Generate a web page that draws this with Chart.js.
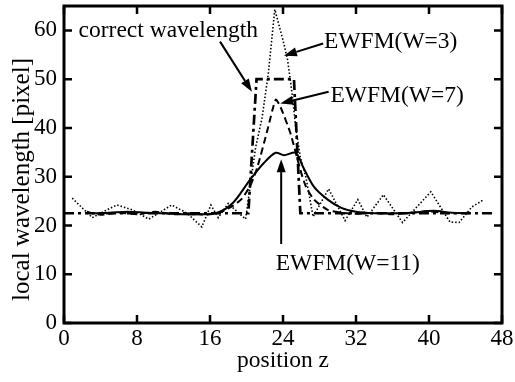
<!DOCTYPE html>
<html>
<head>
<meta charset="utf-8">
<script src="https://cdn.jsdelivr.net/npm/chart.js@4"></script>
<style>
  html, body { margin: 0; padding: 0; background: #fff; }
  #wrap { width: 515px; height: 382px; }
</style>
</head>
<body>
<div id="wrap"><canvas id="canvas" width="515" height="382"></canvas></div>
<script>
const xTicks = [0, 8, 16, 24, 32, 40, 48];
const yTicks = [0, 10, 20, 30, 40, 50, 60];
const yTitle = "local wavelength [pixel]";
const xTitle = "position z";

// correct wavelength (dash-dot)
const correctZ = [0, 20.2, 21.1, 25.2, 25.9, 47.0];
const correctL = [22.5, 22.5, 50, 50, 22.5, 22.5];

// EWFM(W=3) (dotted)
const w3Z = [0.9, 3.1, 4.5, 5.8, 7.5, 9.3, 11.8, 13.5, 15.1, 16.1, 16.9, 18.0, 19.9, 20.4, 21.0, 21.7, 22.4, 23.1, 24.0, 24.5, 25.0, 25.4, 25.9, 26.5, 27.3, 29.0, 30.8, 32.2, 33.2, 35.0, 37.1, 40.2, 42.3, 43.3, 44.7, 46.0];
const w3L = [25.6, 21.6, 23.0, 24.2, 23.2, 21.3, 24.2, 22.5, 19.7, 24.2, 21.6, 24.5, 21.3, 28.0, 36.0, 42.0, 51.3, 64.3, 58.0, 54.0, 47.0, 40.0, 34.0, 30.0, 21.8, 27.5, 21.0, 25.3, 21.7, 26.3, 20.6, 26.9, 20.7, 20.6, 23.8, 25.3];

// EWFM(W=7) (dashed)
const w7Z = [2.5, 4, 6, 8, 10, 12, 14, 15.5, 17, 18.5, 19.5, 20.5, 21.2, 22.3, 23.2, 23.7, 24.8, 25.9, 26.5, 27.4, 28.9, 30.5, 32, 34, 36, 38, 40, 42, 44.5];
const w7L = [22.8, 22.2, 22.6, 22.3, 22.8, 22.3, 22.5, 22.2, 22.6, 24.0, 25.5, 28.5, 32.0, 39.6, 45.8, 44.4, 39.0, 31.4, 28.0, 25.3, 23.2, 22.6, 22.4, 22.6, 22.3, 22.6, 22.9, 22.5, 22.6];

// EWFM(W=11) (solid)
const w11Z = [3, 5, 7, 9, 11, 13, 15, 16.8, 18.5, 20.4, 21.9, 23.2, 24.1, 25.4, 26.2, 27.4, 28.9, 30.4, 32, 34, 36, 38, 40.5, 42.5, 44.5];
const w11L = [22.5, 22.6, 22.8, 22.6, 22.5, 22.3, 22.3, 22.6, 24.6, 29.4, 32.8, 34.9, 34.4, 34.9, 32.0, 27.9, 25.3, 23.6, 22.8, 22.5, 22.5, 22.6, 23.0, 22.6, 22.5];

// labels and arrows, in data units
const labels = [
  { text: "correct wavelength", z: 1.6, l: 60.0 },
  { text: "EWFM(W=3)", z: 28.5, l: 57.6 },
  { text: "EWFM(W=7)", z: 29.2, l: 46.6 },
  { text: "EWFM(W=11)", z: 23.2, l: 12.2 },
];
const arrows = [
  { from: [17.1, 57.7], to: [20.6, 47.4] },
  { from: [28.4, 57.3], to: [24.1, 54.8] },
  { from: [29.0, 47.4], to: [23.7, 45.0] },
  { from: [23.8, 16.2], to: [23.8, 33.6] },
];

const FONT = "'Liberation Serif', 'DejaVu Serif', serif";

const pts = (zs, ls) => zs.map((z, i) => ({ x: z, y: ls[i] }));

const framePlugin = {
  id: "frame",
  afterDraw: (chart) => {
    const ctx = chart.ctx;
    const a = chart.chartArea;
    const sx = chart.scales.x;
    const sy = chart.scales.y;
    ctx.save();
    ctx.strokeStyle = "#000";
    ctx.lineWidth = 3;
    ctx.setLineDash([]);
    ctx.strokeRect(a.left, a.top, a.right - a.left, a.bottom - a.top);
    ctx.lineWidth = 2.5;
    ctx.beginPath();
    xTicks.forEach((v) => {
      const px = sx.getPixelForValue(v);
      ctx.moveTo(px, a.bottom); ctx.lineTo(px, a.bottom - 8);
      ctx.moveTo(px, a.top); ctx.lineTo(px, a.top + 8);
    });
    yTicks.forEach((v) => {
      const py = sy.getPixelForValue(v);
      ctx.moveTo(a.left, py); ctx.lineTo(a.left + 8, py);
      ctx.moveTo(a.right, py); ctx.lineTo(a.right - 8, py);
    });
    ctx.stroke();

    // y axis title, sits a bit below the middle in the original
    ctx.fillStyle = "#000";
    ctx.save();
    ctx.font = "25px " + FONT;
    ctx.translate(22, (a.top + a.bottom) / 2 + 15);
    ctx.rotate(-Math.PI / 2);
    ctx.textAlign = "center";
    ctx.textBaseline = "middle";
    ctx.fillText(yTitle, 0, 0);
    ctx.restore();

    // annotations
    ctx.font = "23.5px " + FONT;
    ctx.textBaseline = "middle";
    ctx.textAlign = "left";
    labels.forEach((t) => {
      ctx.fillText(t.text, sx.getPixelForValue(t.z), sy.getPixelForValue(t.l));
    });
    ctx.lineWidth = 2;
    arrows.forEach((ar) => {
      const x1 = sx.getPixelForValue(ar.from[0]);
      const y1 = sy.getPixelForValue(ar.from[1]);
      const x2 = sx.getPixelForValue(ar.to[0]);
      const y2 = sy.getPixelForValue(ar.to[1]);
      const ang = Math.atan2(y2 - y1, x2 - x1);
      const hl = 13, hw = 4.5;
      const bx = x2 - hl * Math.cos(ang);
      const by = y2 - hl * Math.sin(ang);
      ctx.beginPath();
      ctx.moveTo(x1, y1);
      ctx.lineTo(bx, by);
      ctx.stroke();
      ctx.beginPath();
      ctx.moveTo(x2, y2);
      ctx.lineTo(bx + hw * Math.sin(ang), by - hw * Math.cos(ang));
      ctx.lineTo(bx - hw * Math.sin(ang), by + hw * Math.cos(ang));
      ctx.closePath();
      ctx.fill();
    });
    ctx.restore();
  }
};

const canvas = document.getElementById("canvas").getContext("2d");

const line = (data, dash, width, tension) => ({
  data: data,
  borderColor: "#000",
  borderWidth: width,
  borderDash: dash,
  pointRadius: 0,
  tension: tension,
  fill: false,
});

const plot = new Chart(canvas, {
  type: "scatter",
  data: {
    datasets: [
      line(pts(correctZ, correctL), [10, 4, 3, 4], 2.7, 0),
      line(pts(w3Z, w3L), [1.5, 2], 1.6, 0),
      line(pts(w7Z, w7L), [7, 4], 2, 0.2),
      line(pts(w11Z, w11L), [], 2, 0.3),
    ].map((d) => ({ ...d, showLine: true }))
  },
  options: {
    responsive: false,
    animation: false,
    events: [],
    layout: { padding: { left: 0, right: 13, top: 6, bottom: 0 } },
    plugins: { legend: { display: false }, tooltip: { enabled: false } },
    scales: {
      x: {
        type: "linear",
        min: 0,
        max: 48,
        afterBuildTicks: (s) => { s.ticks = xTicks.map((v) => ({ value: v })); },
        afterFit: (s) => { s.height = 59; s.paddingLeft = 0; s.paddingRight = 0; },
        grid: { display: false, drawTicks: false },
        border: { display: false },
        ticks: { color: "#000", padding: 2, font: { family: FONT, size: 23 } },
        title: { display: true, text: xTitle, color: "#000", padding: { top: 0, bottom: 7 }, font: { family: FONT, size: 23.5 } }
      },
      y: {
        type: "linear",
        min: 0,
        max: 65,
        afterBuildTicks: (s) => { s.ticks = yTicks.map((v) => ({ value: v })); },
        afterFit: (s) => { s.width = 64; s.paddingTop = 0; s.paddingBottom = 0; },
        grid: { display: false, drawTicks: false },
        border: { display: false },
        ticks: { color: "#000", padding: 7, font: { family: FONT, size: 23 } },
        title: { display: false }
      }
    }
  },
  plugins: [framePlugin]
});
</script>
</body>
</html>
